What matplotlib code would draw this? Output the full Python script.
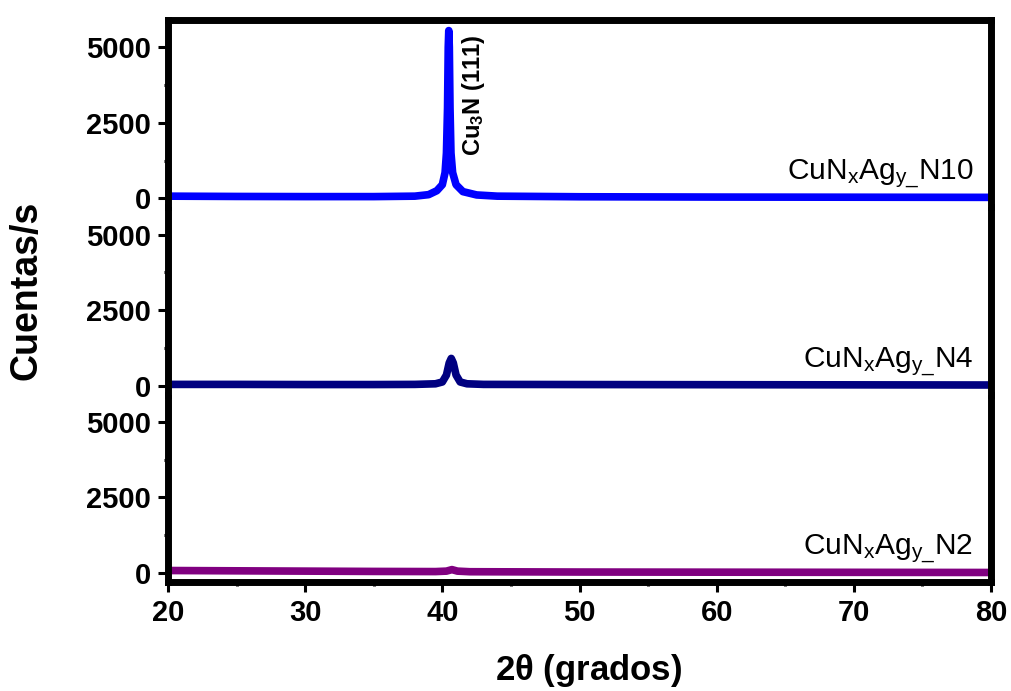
import matplotlib
matplotlib.use("Agg")
import matplotlib.pyplot as plt
from matplotlib.ticker import MultipleLocator

plt.rcParams['font.family'] = ['Liberation Sans', 'DejaVu Sans']
plt.rcParams['mathtext.fontset'] = 'custom'
plt.rcParams['mathtext.rm'] = 'Liberation Sans'
plt.rcParams['mathtext.it'] = 'Liberation Sans'
plt.rcParams['mathtext.bf'] = 'Liberation Sans:bold'

# Data
x_n10 = [20, 25, 30, 35, 38, 39, 39.6, 40.0, 40.2, 40.3, 40.38, 40.43, 40.47, 40.51, 40.56, 40.63, 40.75, 41.0, 41.5, 42.5, 44, 50, 60, 70, 80]
y_n10 = [70, 60, 55, 55, 70, 120, 250, 450, 850, 1500, 3000, 5000, 5550, 5000, 3000, 1500, 850, 450, 220, 110, 70, 50, 40, 35, 30]

x_n4 = [20, 25, 30, 35, 38, 39.5, 40.0, 40.3, 40.5, 40.65, 40.8, 41.0, 41.3, 41.8, 43, 50, 60, 70, 80]
y_n4 = [40, 40, 35, 35, 40, 60, 120, 350, 750, 900, 750, 350, 120, 60, 40, 35, 30, 25, 20]

x_n2 = [20, 25, 30, 35, 39.5, 40.3, 40.7, 41.1, 42, 50, 60, 70, 80]
y_n2 = [80, 70, 60, 50, 45, 60, 110, 60, 40, 30, 25, 20, 15]

labels = [r'CuN$_\mathregular{x}$Ag$_\mathregular{y\_}$N10',
          r'CuN$_\mathregular{x}$Ag$_\mathregular{y\_}$N4',
          r'CuN$_\mathregular{x}$Ag$_\mathregular{y\_}$N2']
colors = ['#0000FF', '#000080', '#800080']
yticks = [0, 2500, 5000]
xticks = [20, 30, 40, 50, 60, 70, 80]

fig = plt.figure(figsize=(10.11, 6.91), dpi=100)
left, right = 168 / 1011, 991 / 1011
top, bottom = 1 - 20 / 691, 1 - 582 / 691
h = (top - bottom) / 3
axes = []
for i in range(3):
    ax = fig.add_axes([left, top - (i + 1) * h, right - left, h])
    axes.append(ax)

series = [(x_n10, y_n10), (x_n4, y_n4), (x_n2, y_n2)]
spine_lw = 5
for i, (ax, (xs, ys)) in enumerate(zip(axes, series)):
    ax.plot(xs, ys, color=colors[i], lw=5.5, solid_capstyle='butt', solid_joinstyle='round')
    ax.set_xlim(20, 80)
    ax.set_ylim(-300, 5900)
    ax.set_yticks(yticks)
    ax.yaxis.set_minor_locator(MultipleLocator(1250))
    ax.xaxis.set_minor_locator(MultipleLocator(5))
    ax.set_xticks(xticks)
    for s in ['left', 'right', 'top', 'bottom']:
        ax.spines[s].set_linewidth(spine_lw)
        ax.spines[s].set_capstyle('projecting')
    ax.spines['top'].set_visible(i == 0)
    ax.spines['bottom'].set_visible(i == 2)
    ax.tick_params(axis='y', which='major', direction='out', length=7, width=2.2,
                   labelsize=21, pad=5)
    ax.tick_params(axis='y', which='minor', direction='out', length=3, width=2.2)
    ax.tick_params(axis='x', which='major', direction='out', length=7, width=2.2,
                   labelsize=21, pad=5, labelbottom=(i == 2), bottom=(i == 2))
    ax.tick_params(axis='x', which='minor', direction='out', length=3, width=2.2,
                   bottom=(i == 2))
    for lab in ax.get_yticklabels() + ax.get_xticklabels():
        lab.set_fontweight('bold')
    ax.text(78.7, 600, labels[i], ha='right', va='baseline', fontsize=21.5)
    ax.set_zorder(3 - i)

axes[0].text(42.3, 1400, r'Cu$_\mathbf{3}$N (111)', rotation=90, ha='center', va='bottom',
             fontsize=17, fontweight='bold')

fig.text(27 / 1011, 1 - 290 / 691, 'Cuentas/s', rotation=90, ha='center', va='center',
         fontsize=27, fontweight='bold')
fig.text(589 / 1011, 1 - 680 / 691, r'2$\mathregular{\theta}$ (grados)', ha='center', va='baseline',
         fontsize=25, fontweight='bold')

fig.savefig('out.png', dpi=100)
